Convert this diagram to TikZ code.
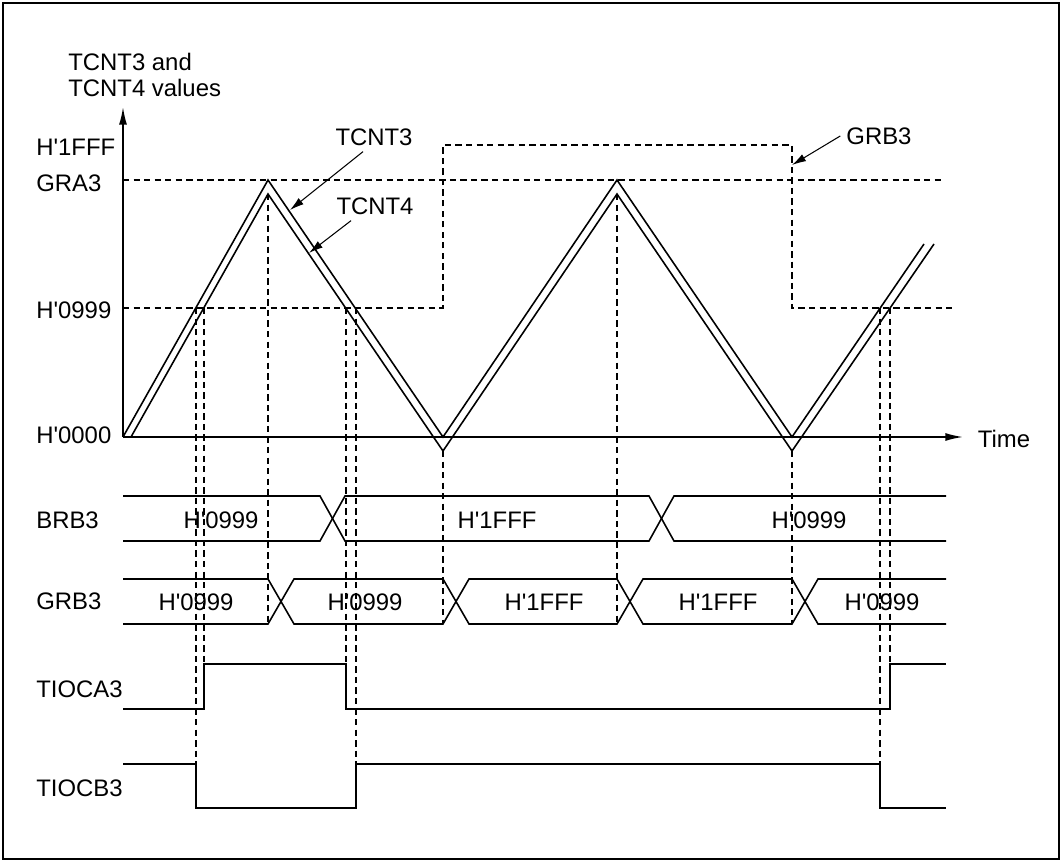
\documentclass[tikz,border=0pt]{standalone}
\usepackage{fontspec}
\setmainfont{Liberation Sans}
\usepackage{tikz}
\usetikzlibrary{calc,arrows.meta}
\tikzstyle{every picture}=[>={Latex[length=10pt,width=4.5pt]}]
\tikzstyle{wave}=[-, draw, line width=0.9pt]
\tikzstyle{guide}=[-, draw, line width=0.6pt, dash pattern=on 3.6pt off 2.4pt]
\tikzstyle{pointer}=[->, draw, line width=0.6pt, >={Latex[length=8pt,width=4.5pt]}]
\tikzstyle{sig}=[anchor=west, inner sep=0pt]
\newcommand{\hval}[1]{H\textquotesingle#1}

\begin{document}
\begin{tikzpicture}[x=0.02cm, y=-0.02cm, every node/.style={font=\fontsize{13.6}{15}\selectfont}]
\useasboundingbox (0,0) rectangle (1063,861);
\draw[line width=0.9pt] (3,3) rectangle (1059,859);

% axes
\coordinate (O) at (123,437);
\coordinate (yend) at (123,107);
\coordinate (xend) at (963,437);
\path[->, draw, line width=0.9pt] (O) -- (yend);
\path[->, draw, line width=0.9pt] (O) -- (xend);
\node (time) at (1004,439) {Time};

% GRA3 and GRB3 levels
\path[guide] (123,180) -- (945,180);
\path[guide] (123,308) -- (443,308) -- (443,145) -- (792,145) -- (792,308) -- (955,308);

% TCNT3, TCNT4
\path[wave] (O) -- (268,180) -- (443,437) -- (617,180) -- (792,437) -- (924,244);
\path[wave] (131,437) -- (268,194) -- (443,451) -- (617,194) -- (792,451) -- (934,244);

\foreach \x/\ya/\yb in {196/308/764, 204/308/664, 268/194/624, 346/308/664, 356/308/764,
                        443/451/624, 617/194/624, 792/451/624, 880/308/764, 890/308/664}
    \path[guide] (\x,\ya) -- (\x,\yb);

% BRB3
\path[wave] (123,496) -- (320,496) -- (345,541) -- (649,541) -- (674,496) -- (946,496);
\path[wave] (123,541) -- (320,541) -- (345,496) -- (649,496) -- (674,541) -- (946,541);
% GRB3
\path[wave] (123,579) -- (268,579) -- (294,624) -- (443,624) -- (469,579) -- (617,579) -- (643,624) -- (792,624) -- (818,579) -- (946,579);
\path[wave] (123,624) -- (268,624) -- (294,579) -- (443,579) -- (469,624) -- (617,624) -- (643,579) -- (792,579) -- (818,624) -- (946,624);
% TIOCA3, TIOCB3
\path[wave] (123,709) -- (204,709) -- (204,664) -- (346,664) -- (346,709) -- (890,709) -- (890,664) -- (946,664);
\path[wave] (123,764) -- (196,764) -- (196,808) -- (356,808) -- (356,764) -- (880,764) -- (880,808) -- (946,808);

\node[sig, align=left] (yaxis) at (68,75) {TCNT3 and\\TCNT4 values};
\node[sig] (l1fff) at (36,147) {\hval{1FFF}};
\node[sig] (lgra) at (36,183) {GRA3};
\node[sig] (l0999) at (36,310) {\hval{0999}};
\node[sig] (l0000) at (36,435) {\hval{0000}};
\node[sig] (lbrb) at (36,520) {BRB3};
\node[sig] (lgrb) at (36,601) {GRB3};
\node[sig] (ltioca) at (36,689) {TIOCA3};
\node[sig] (ltiocb) at (36,788) {TIOCB3};

\node (b1) at (221,520) {\hval{0999}};
\node (b2) at (497,520) {\hval{1FFF}};
\node (b3) at (809,520) {\hval{0999}};
\node (g1) at (196,602) {\hval{0999}};
\node (g2) at (365,602) {\hval{0999}};
\node (g3) at (544,602) {\hval{1FFF}};
\node (g4) at (718,602) {\hval{1FFF}};
\node (g5) at (882,602) {\hval{0999}};

\node (tcnt3) at (374,137) {TCNT3};
\node (tcnt4) at (375,206) {TCNT4};
\node (grb3) at (879,136) {GRB3};
\coordinate (t3tip) at (290,210);
\coordinate (t4tip) at (309,253);
\coordinate (gtip) at (792,165);
\path[pointer] ($(tcnt3.south)+(-11,0)$) -- (t3tip);
\path[pointer] ($(tcnt4.south)+(-24,0)$) -- (t4tip);
\path[pointer] (grb3.west) -- (gtip);
%\path[pointer] (grb3) -- (gtip);
\end{tikzpicture}
\end{document}
